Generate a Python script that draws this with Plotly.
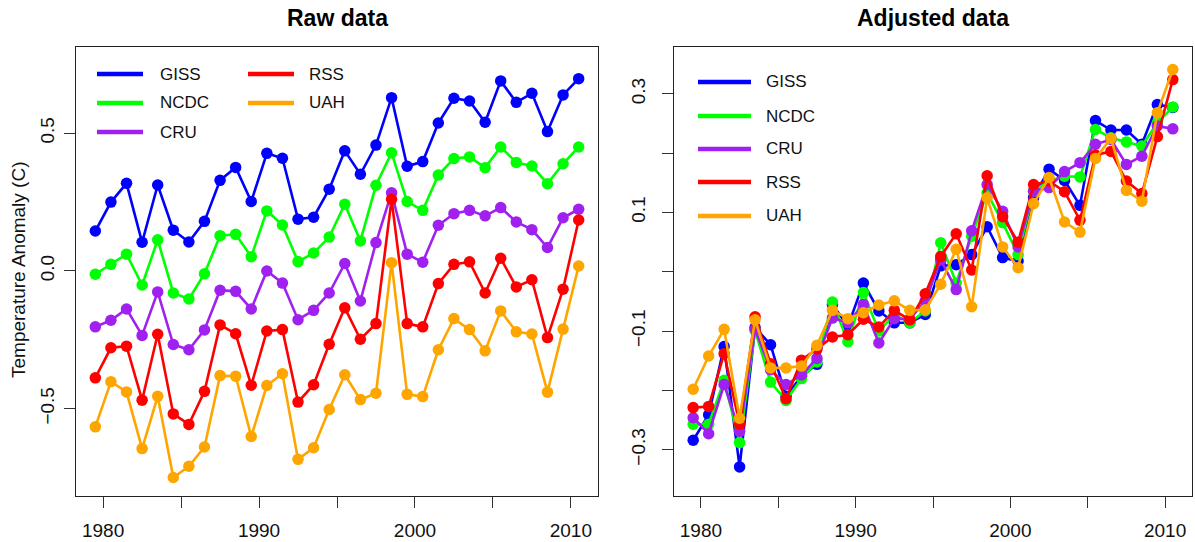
import plotly.graph_objects as go

# ---------------- data ----------------
years = [1979.5, 1980.5, 1981.5, 1982.5, 1983.5, 1984.5, 1985.5, 1986.5,
         1987.5, 1988.5, 1989.5, 1990.5, 1991.5, 1992.5, 1993.5, 1994.5,
         1995.5, 1996.5, 1997.5, 1998.5, 1999.5, 2000.5, 2001.5, 2002.5,
         2003.5, 2004.5, 2005.5, 2006.5, 2007.5, 2008.5, 2009.5, 2010.5]

series_names = ["GISS", "NCDC", "CRU", "RSS", "UAH"]
series_colors = ["#0000FF", "#00FF00", "#A020F0", "#FF0000", "#FFA500"]

# Raw data (offset for clarity)
raw_giss = [0.145, 0.250, 0.318, 0.104, 0.312, 0.148, 0.105, 0.180, 0.329, 0.376, 0.252, 0.427,
            0.409, 0.188, 0.195, 0.297, 0.436, 0.351, 0.457, 0.629, 0.380, 0.397, 0.537, 0.627,
            0.617, 0.540, 0.690, 0.612, 0.645, 0.506, 0.639, 0.698]
raw_ncdc = [-0.012, 0.024, 0.061, -0.051, 0.113, -0.080, -0.102, -0.010, 0.128, 0.133, 0.052, 0.218,
            0.167, 0.034, 0.065, 0.123, 0.242, 0.109, 0.311, 0.429, 0.252, 0.220, 0.348, 0.408,
            0.414, 0.375, 0.450, 0.394, 0.381, 0.317, 0.389, 0.450]
raw_cru = [-0.203, -0.179, -0.138, -0.234, -0.076, -0.267, -0.286, -0.214, -0.070, -0.074, -0.138, 0.000,
           -0.044, -0.177, -0.143, -0.080, 0.027, -0.109, 0.103, 0.284, 0.061, 0.032, 0.166, 0.208,
           0.220, 0.200, 0.230, 0.178, 0.150, 0.085, 0.193, 0.224]
raw_rss = [-0.388, -0.279, -0.273, -0.469, -0.230, -0.519, -0.557, -0.437, -0.196, -0.228, -0.415, -0.218,
           -0.213, -0.476, -0.413, -0.266, -0.134, -0.248, -0.191, 0.260, -0.191, -0.203, -0.046, 0.024,
           0.033, -0.080, 0.046, -0.058, -0.032, -0.242, -0.066, 0.185]
raw_uah = [-0.566, -0.402, -0.439, -0.645, -0.455, -0.750, -0.709, -0.639, -0.380, -0.382, -0.601, -0.416,
           -0.373, -0.684, -0.642, -0.503, -0.377, -0.467, -0.444, 0.030, -0.448, -0.456, -0.286, -0.173,
           -0.213, -0.290, -0.145, -0.221, -0.229, -0.440, -0.211, 0.018]

# Adjusted data
adj_giss = [-0.284, -0.241, -0.126, -0.329, -0.094, -0.123, -0.210, -0.176, -0.156, -0.055, -0.092, -0.019,
            -0.066, -0.086, -0.086, -0.072, 0.010, 0.012, 0.029, 0.076, 0.024, 0.018, 0.125, 0.173,
            0.154, 0.112, 0.255, 0.239, 0.239, 0.215, 0.282, 0.277]
adj_ncdc = [-0.257, -0.257, -0.183, -0.288, -0.099, -0.186, -0.217, -0.180, -0.152, -0.051, -0.118, -0.035,
            -0.100, -0.072, -0.086, -0.066, 0.049, -0.019, 0.060, 0.133, 0.083, 0.029, 0.136, 0.153,
            0.161, 0.160, 0.240, 0.226, 0.219, 0.212, 0.251, 0.278]
adj_cru = [-0.246, -0.273, -0.190, -0.269, -0.097, -0.165, -0.190, -0.174, -0.146, -0.078, -0.086, -0.055,
           -0.120, -0.079, -0.080, -0.049, 0.020, -0.030, 0.069, 0.147, 0.102, 0.042, 0.136, 0.142,
           0.169, 0.184, 0.215, 0.223, 0.181, 0.195, 0.246, 0.241]
adj_rss = [-0.229, -0.227, -0.138, -0.257, -0.076, -0.155, -0.214, -0.149, -0.130, -0.110, -0.106, -0.080,
           -0.093, -0.065, -0.081, -0.037, 0.026, 0.064, 0.003, 0.162, 0.093, 0.050, 0.147, 0.153,
           0.135, 0.087, 0.197, 0.203, 0.153, 0.132, 0.228, 0.324]
adj_uah = [-0.198, -0.142, -0.097, -0.247, -0.081, -0.162, -0.162, -0.159, -0.124, -0.065, -0.079, -0.069,
           -0.056, -0.049, -0.065, -0.064, -0.021, 0.038, -0.059, 0.125, 0.042, 0.007, 0.115, 0.159,
           0.084, 0.067, 0.191, 0.225, 0.137, 0.119, 0.268, 0.341]

raw_series = [raw_giss, raw_ncdc, raw_cru, raw_rss, raw_uah]
adj_series = [adj_giss, adj_ncdc, adj_cru, adj_rss, adj_uah]

x_tickvals = [1980, 1985, 1990, 1995, 2000, 2005, 2010]
x_ticktext = ["1980", "", "1990", "", "2000", "", "2010"]
raw_tickvals = [-0.5, 0.0, 0.5]
raw_ticktext = ["\u22120.5", "0.0", "0.5"]
adj_tickvals = [-0.3, -0.2, -0.1, 0.0, 0.1, 0.2, 0.3]
adj_ticktext = ["\u22120.3", "", "\u22120.1", "", "0.1", "", "0.3"]

# ---------------- layout helpers ----------------
W, H = 1195, 542
FONT = "Liberation Sans, Arial, Helvetica, sans-serif"


def fx(px):
    return px / W


def fy(py):
    return 1 - py / H


fig = go.Figure()

for vals, name, col in zip(raw_series, series_names, series_colors):
    fig.add_trace(go.Scatter(x=years, y=vals, mode="lines+markers", name=name,
                             line=dict(color=col, width=2.6),
                             marker=dict(color=col, size=11.5),
                             xaxis="x", yaxis="y", showlegend=False, hoverinfo="skip"))
for vals, name, col in zip(adj_series, series_names, series_colors):
    fig.add_trace(go.Scatter(x=years, y=vals, mode="lines+markers", name=name,
                             line=dict(color=col, width=2.6),
                             marker=dict(color=col, size=11.5),
                             xaxis="x2", yaxis="y2", showlegend=False, hoverinfo="skip"))

common_axis = dict(showline=True, mirror=True, linecolor="#222222", linewidth=1.3,
                   ticks="outside", ticklen=11, tickcolor="#333333", tickwidth=1.3,
                   showgrid=False, zeroline=False,
                   tickfont=dict(family=FONT, size=19, color="#111111"))

xrange = [1978.26, 2011.74]
fig.update_layout(
    width=W, height=H,
    margin=dict(l=0, r=0, t=0, b=0),
    paper_bgcolor="white", plot_bgcolor="white",
    showlegend=False,
    xaxis=dict(domain=[fx(76), fx(598)], range=xrange, tickmode="array",
               tickvals=x_tickvals, ticktext=x_ticktext, anchor="y",
               ticklabelstandoff=6, **common_axis),
    yaxis=dict(domain=[fy(496), fy(47)], range=[-0.817, 0.813], tickmode="array",
               tickvals=raw_tickvals, ticktext=raw_ticktext, tickangle=-90, anchor="x",
               ticklabelstandoff=2, **common_axis),
    xaxis2=dict(domain=[fx(674), fx(1192)], range=xrange, tickmode="array",
                tickvals=x_tickvals, ticktext=x_ticktext, anchor="y2",
                ticklabelstandoff=6, **common_axis),
    yaxis2=dict(domain=[fy(496), fy(47)], range=[-0.378, 0.379], tickmode="array",
                tickvals=adj_tickvals, ticktext=adj_ticktext, tickangle=-90, anchor="x2",
                ticklabelstandoff=9, **common_axis),
)

annotations = []
shapes = []

# titles
annotations.append(dict(text="<b>Raw data</b>", x=fx(337), y=fy(18), xref="paper", yref="paper",
                        showarrow=False, xanchor="center", yanchor="middle",
                        font=dict(family=FONT, size=23, color="black")))
annotations.append(dict(text="<b>Adjusted data</b>", x=fx(933), y=fy(18), xref="paper", yref="paper",
                        showarrow=False, xanchor="center", yanchor="middle",
                        font=dict(family=FONT, size=23, color="black")))
# y axis title
annotations.append(dict(text="Temperature Anomaly (C)", x=fx(18), y=fy(270), xref="paper", yref="paper",
                        showarrow=False, xanchor="center", yanchor="middle", textangle=-90,
                        font=dict(family=FONT, size=19, color="#111111")))

# legends (drawn as key lines + labels)
left_legend = [(97, 143, 158, 74), (97, 143, 158, 103), (97, 143, 158, 132),
               (248, 294, 307, 74), (248, 294, 307, 103)]
right_legend = [(698, 751, 764, 82), (698, 751, 764, 116), (698, 751, 764, 149),
                (698, 751, 764, 182), (698, 751, 764, 216)]
for layout_pos in (left_legend, right_legend):
    for (x0, x1, xt, yy), name, col in zip(layout_pos, series_names, series_colors):
        shapes.append(dict(type="line", xref="paper", yref="paper",
                           x0=fx(x0), x1=fx(x1), y0=fy(yy), y1=fy(yy),
                           line=dict(color=col, width=4.5)))
        annotations.append(dict(text=name, x=fx(xt), y=fy(yy), xref="paper", yref="paper",
                                showarrow=False, xanchor="left", yanchor="middle",
                                font=dict(family=FONT, size=17, color="#111111")))

fig.update_layout(annotations=annotations, shapes=shapes)

fig.write_html("out.html")
